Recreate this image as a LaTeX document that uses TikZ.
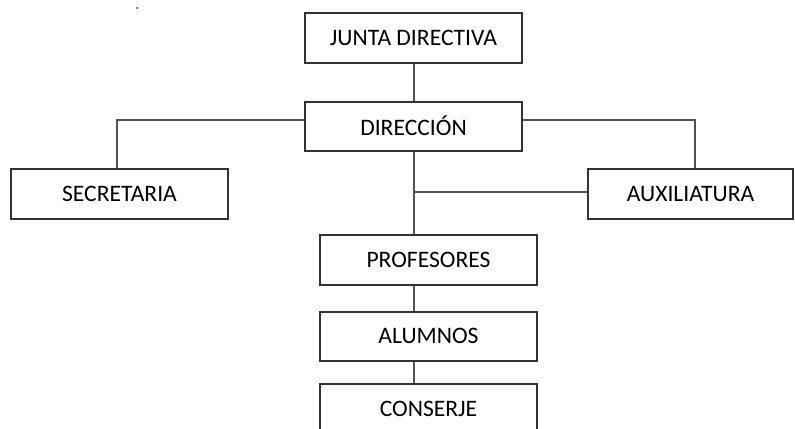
\documentclass[tikz,border=0pt]{standalone}
\usepackage{fontspec}
\setmainfont{Carlito}
\usepackage{tikz}
\usetikzlibrary{positioning,calc}
\definecolor{linea}{HTML}{333333}

\begin{document}
\begin{tikzpicture}[x=0.5pt,y=-0.5pt,
  unidad/.style={draw=linea, line width=1pt, minimum width=108.5pt, minimum height=25pt, inner sep=0pt, font=\fontsize{11.8}{14}\selectfont},
  enlace/.style={draw=linea!85, line width=1pt}]
  \useasboundingbox (0,0) rectangle (795,428);
  \clip (0,0) rectangle (795,428);
  % unidades
  \node[unidad] (junta) at (413.5,38) {JUNTA DIRECTIVA};
  \node[unidad, minimum height=24.5pt] (direccion) at (413.5,126) {DIRECCIÓN};
  \node[unidad] (secretaria) at (119.5,194) {SECRETARIA};
  \node[unidad, minimum width=102.5pt] (auxiliatura) at (690.5,194) {AUXILIATURA};
  \node[unidad] (profesores) at (428.5,260) {PROFESORES};
  \node[unidad, minimum height=24.5pt] (alumnos) at (428.5,336) {ALUMNOS};
  \node[unidad] (conserje) at (428.5,409) {CONSERJE};
  \coordinate (rama) at (413.5,192);
  % enlaces
  \draw[enlace] (junta.south) -- (direccion.north);
  \draw[enlace] ([yshift=3pt]direccion.west) -| ([xshift=-1.5pt]secretaria.north);
  \draw[enlace] ([yshift=3pt]direccion.east) -| ([xshift=2pt]auxiliatura.north);
  \draw[enlace] (direccion.south) -- (direccion.south |- profesores.north);
  \draw[enlace] (rama) -- (rama -| auxiliatura.west);
  \draw[enlace] (profesores.south -| junta.south) -- (alumnos.north -| junta.south);
  \draw[enlace] (alumnos.south -| junta.south) -- (conserje.north -| junta.south);
  \fill[linea] (137,8) circle (0.5pt);
\end{tikzpicture}
\end{document}
